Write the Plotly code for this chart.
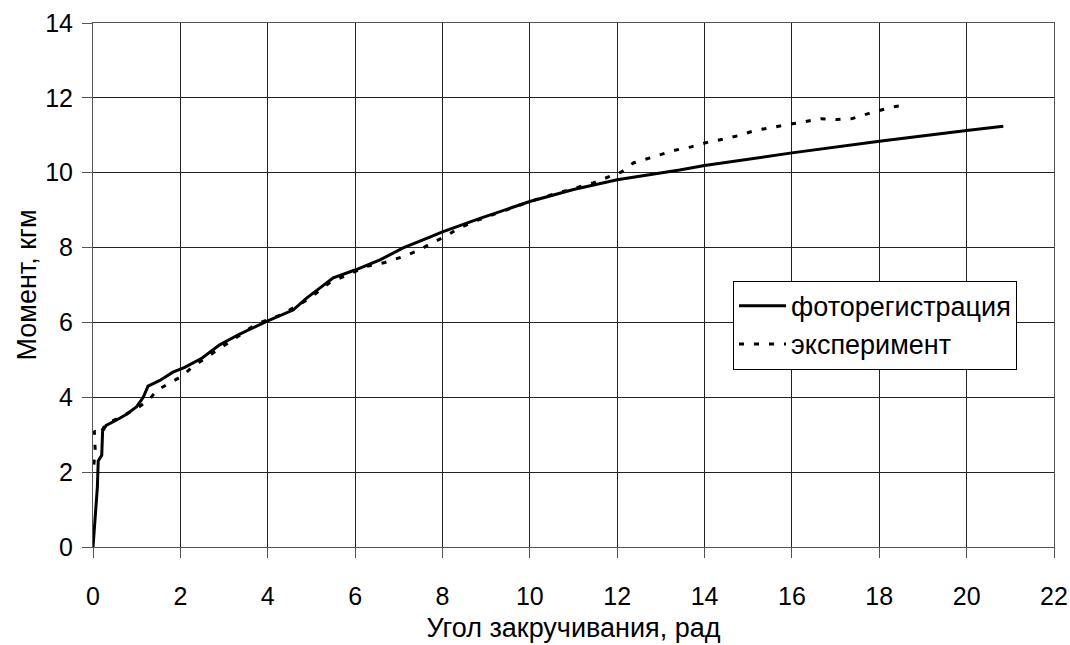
import plotly.graph_objects as go

# фоторегистрация (solid)
photo_x = [0, 0.05, 0.1, 0.12, 0.2, 0.22, 0.3, 0.55, 0.76, 1.0, 1.07, 1.15, 1.26, 1.53, 1.83,
           2.1, 2.5, 2.9, 3.36, 4.0, 4.58, 4.89, 5.5, 6.0, 6.57, 7.1, 7.71, 8.0, 8.86, 10.0,
           11.0, 12.0, 13.43, 14.0, 16.0, 18.0, 20.0, 20.84]
photo_y = [0, 0.8, 1.6, 2.3, 2.45, 3.1, 3.25, 3.4, 3.54, 3.75, 3.86, 4.0, 4.3, 4.45, 4.67,
           4.8, 5.05, 5.4, 5.69, 6.04, 6.33, 6.65, 7.19, 7.4, 7.67, 7.99, 8.28, 8.42, 8.78, 9.23,
           9.55, 9.81, 10.07, 10.19, 10.53, 10.84, 11.13, 11.24]

# эксперимент (dotted)
exp_x = [0.02, 0.05, 0.03, 0.15, 0.3, 0.6, 1.0, 1.3, 1.45, 2.06, 2.26, 2.9, 3.36, 3.74, 4.3,
         4.9, 5.43, 6.3, 6.68, 7.1, 7.48, 7.75, 8.09, 8.36, 8.78, 9.47, 10.0, 10.53, 11.03,
         11.45, 11.83, 12.1, 12.37, 12.53, 12.92, 13.32, 13.69, 14.06, 14.45, 14.77, 15.16,
         15.54, 15.95, 16.39, 16.66, 17.02, 17.36, 17.75, 18.08, 18.28, 18.67]
exp_y = [2.2, 2.6, 3.1, 3.0, 3.3, 3.45, 3.7, 3.95, 4.18, 4.58, 4.8, 5.3, 5.64, 5.96, 6.2,
         6.6, 7.07, 7.51, 7.6, 7.76, 7.94, 8.12, 8.31, 8.51, 8.72, 9.02, 9.23, 9.42, 9.6,
         9.73, 9.9, 10.02, 10.26, 10.32, 10.46, 10.6, 10.69, 10.81, 10.9, 10.99, 11.13,
         11.21, 11.3, 11.4, 11.44, 11.42, 11.44, 11.58, 11.69, 11.75, 11.82]

x_ticks = list(range(0, 23, 2))
y_ticks = list(range(0, 15, 2))

FONT = "Liberation Sans, Arial, sans-serif"

fig = go.Figure()
fig.add_trace(go.Scatter(x=photo_x, y=photo_y, mode="lines", name="фоторегистрация",
                         legendgroup="a",
                         line=dict(color="black", width=3)))
fig.add_trace(go.Scatter(x=exp_x, y=exp_y, mode="lines", name="эксперимент",
                         legendgroup="b",
                         line=dict(color="black", width=3, dash="5px,10px")))

fig.update_layout(
    width=1070, height=645,
    margin=dict(l=93, r=16, t=23, b=98),
    paper_bgcolor="white", plot_bgcolor="white",
    font=dict(family=FONT, size=25, color="black"),
    showlegend=True,
    legend=dict(x=0.666, y=0.508, xanchor="left", yanchor="top",
                bgcolor="white", bordercolor="black", borderwidth=1,
                font=dict(size=27), itemwidth=47,
                traceorder="grouped", tracegroupgap=0),
    xaxis=dict(range=[0, 22], tickvals=x_ticks, ticktext=[str(v) for v in x_ticks],
               showgrid=True, gridcolor="#222", gridwidth=1,
               showline=True, linecolor="#555", linewidth=1, mirror=True,
               ticks="outside", ticklen=10, tickcolor="#555",
               zeroline=False, ticklabelstandoff=17, automargin=False,
               tickfont=dict(size=25),
               title=dict(text="Угол закручивания, рад", standoff=9,
                          font=dict(size=27, family=FONT))),
    yaxis=dict(range=[0, 14], tickvals=y_ticks, ticktext=[str(v) for v in y_ticks],
               showgrid=True, gridcolor="#222", gridwidth=1,
               showline=True, linecolor="#555", linewidth=1, mirror=True,
               ticks="outside", ticklen=10, tickcolor="#555",
               zeroline=False, ticklabelstandoff=4, automargin=False,
               tickfont=dict(size=25),
               title=dict(text="Момент, кгм", standoff=0,
                          font=dict(size=27, family=FONT))),
)

fig.write_html("out.html")
